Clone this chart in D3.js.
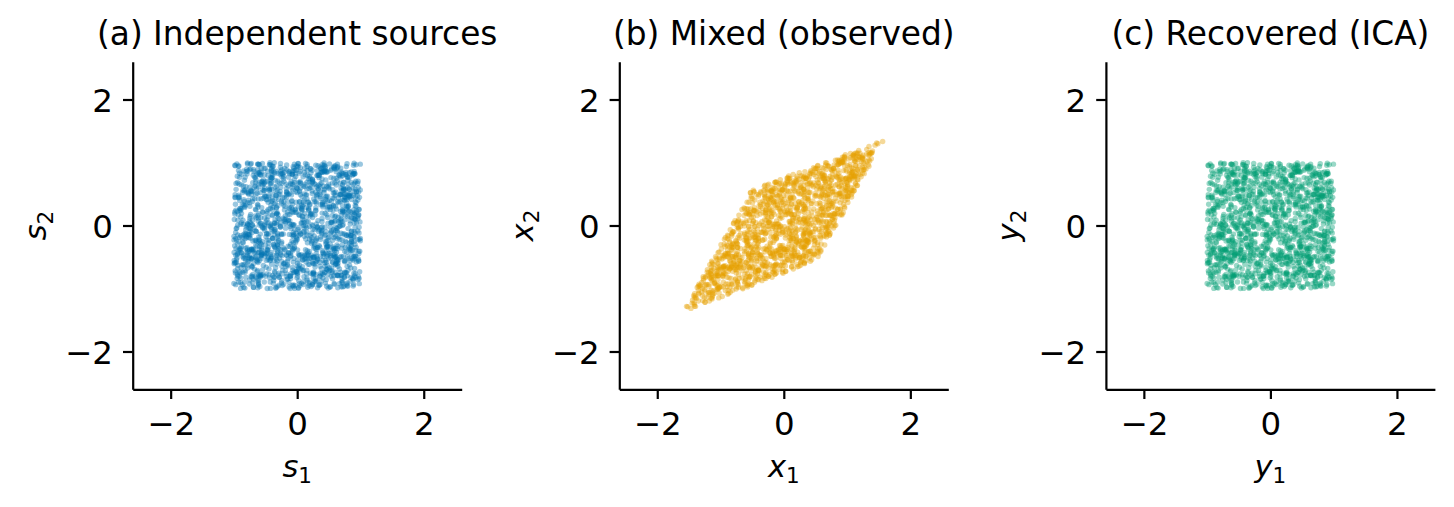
<!DOCTYPE html>
<html>
<head>
<meta charset="utf-8">
<script src="https://cdn.jsdelivr.net/npm/d3@7"></script>
<style>
  html, body { margin: 0; padding: 0; background: #fff; }
  svg { display: block; font-family: "DejaVu Sans", sans-serif; }
</style>
</head>
<body>
<svg id="chart" width="1454" height="507"></svg>
<script>
// panel texts
const panelTitles = ["(a) Independent sources", "(b) Mixed (observed)", "(c) Recovered (ICA)"];
const xNames = ["s", "x", "y"];
const yNames = ["s", "x", "y"];
const panelColors = ["#0072B2", "#E69F00", "#009E73"];

// axes
const axisDomain = [-2.6, 2.6];
const tickValues = [-2, 0, 2];

// data model: uniform sources on a square,
// a 2x2 mixing matrix (from the parallelogram corners), and ICA unmixing
const sampleCount = 1500;
const sourceRange = [-1, 1];
const mixingMatrix = [[1.05, 0.53], [0.40, 0.96]];

// the point clouds themselves cannot be read one by one, so they are drawn
// as a seeded uniform sample over the source square
const rng = d3.randomLcg(0.1234);
const uniform = d3.randomUniform.source(rng)(sourceRange[0], sourceRange[1]);
const sources = d3.range(sampleCount).map(() => [uniform(), uniform()]);

const apply = (m, p) => [m[0][0] * p[0] + m[0][1] * p[1], m[1][0] * p[0] + m[1][1] * p[1]];
const det = mixingMatrix[0][0] * mixingMatrix[1][1] - mixingMatrix[0][1] * mixingMatrix[1][0];
const unmixing = [
  [mixingMatrix[1][1] / det, -mixingMatrix[0][1] / det],
  [-mixingMatrix[1][0] / det, mixingMatrix[0][0] / det]
];
const mixed = sources.map((p) => apply(mixingMatrix, p));
const recovered = mixed.map((p) => apply(unmixing, p));
const panelData = [sources, mixed, recovered];

const svg = d3.select("#chart");

const firstLeft = 132.7, panelStep = 486.6, plotW = 329, plotTop = 61.7, plotH = 327.6;
const tickFont = 32.5, titleFont = 32.8, labelFont = 30.5;

panelData.forEach((pts, i) => {
  const left = firstLeft + i * panelStep;
  const x = d3.scaleLinear().domain(axisDomain).range([0, plotW]);
  const y = d3.scaleLinear().domain(axisDomain).range([plotH, 0]);

  const g = svg.append("g").attr("transform", `translate(${left},${plotTop})`);

  // points
  g.append("g")
    .selectAll("circle")
    .data(pts)
    .join("circle")
    .attr("cx", (d) => x(d[0]))
    .attr("cy", (d) => y(d[1]))
    .attr("r", 2.7)
    .attr("fill", panelColors[i])
    .attr("fill-opacity", 0.4);

  const fmt = d3.format("d");
  // bottom axis
  const ax = g.append("g")
    .attr("transform", `translate(0,${plotH})`)
    .call(d3.axisBottom(x).tickValues(tickValues).tickFormat(fmt).tickSizeInner(9.7).tickSizeOuter(0).tickPadding(13.3));
  // left axis
  const ay = g.append("g")
    .call(d3.axisLeft(y).tickValues(tickValues).tickFormat(fmt).tickSizeInner(9.7).tickSizeOuter(0).tickPadding(10));

  [ax, ay].forEach((a) => {
    a.select(".domain").attr("stroke", "#000").attr("stroke-width", 2.2);
    a.selectAll(".tick line").attr("stroke", "#000").attr("stroke-width", 2.2);
    a.selectAll(".tick text")
      .attr("fill", "#000")
      .style("font-family", "DejaVu Sans")
      .style("font-size", tickFont + "px");
  });
  ay.selectAll(".tick text").attr("dy", "0.36em");

  // title
  g.append("text")
    .attr("x", plotW / 2)
    .attr("y", 45 - plotTop)
    .attr("text-anchor", "middle")
    .style("font-size", titleFont + "px")
    .attr("fill", "#000")
    .text(panelTitles[i]);

  // x label: italic name with subscript 1
  const xl = g.append("text")
    .attr("x", plotW / 2)
    .attr("y", 476.7 - plotTop)
    .attr("text-anchor", "middle")
    .style("font-size", labelFont + "px")
    .attr("fill", "#000");
  xl.append("tspan").style("font-style", "italic").text(xNames[i]);
  xl.append("tspan").attr("dy", 6.5).style("font-size", "21.5px").text("1");

  // y label: rotated, subscript 2
  const yl = g.append("text")
    .attr("transform", `translate(${46 - firstLeft},${plotH / 2}) rotate(-90)`)
    .attr("text-anchor", "middle")
    .style("font-size", labelFont + "px")
    .attr("fill", "#000");
  yl.append("tspan").style("font-style", "italic").text(yNames[i]);
  yl.append("tspan").attr("dy", 6.5).style("font-size", "21.5px").text("2");
});
</script>
</body>
</html>
